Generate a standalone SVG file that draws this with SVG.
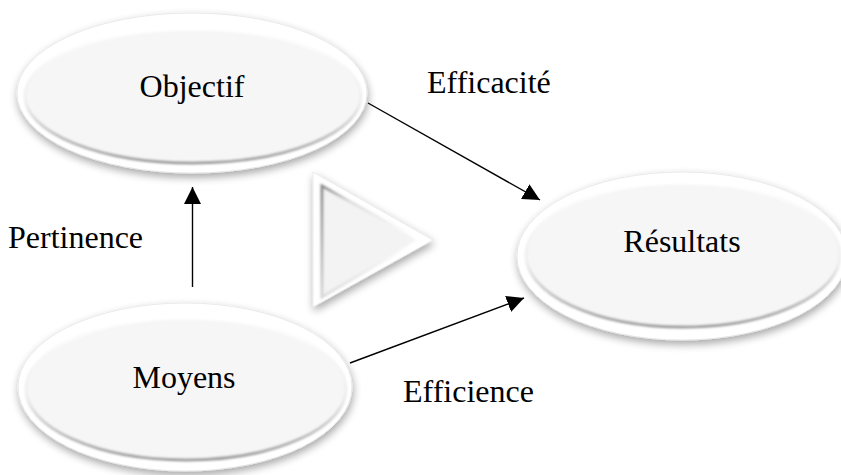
<svg xmlns="http://www.w3.org/2000/svg" width="841" height="475" viewBox="0 0 841 475">
  <style>
    .outer { fill: #ffffff; stroke: #e4e4e4; stroke-width: 0.8; }
    .inner { fill: #f6f6f6; stroke: url(#edge); stroke-width: 3; }
    .lbl { font-family: "Liberation Serif", "Times New Roman", serif; font-size: 32px; fill: #000; }
    .mid { text-anchor: middle; }
    .conn { stroke: #000; stroke-width: 1.4; fill: none; marker-end: url(#arrow); }
  </style>
  <defs>
    <filter id="shadow" x="-20%" y="-20%" width="140%" height="150%">
      <feGaussianBlur in="SourceAlpha" stdDeviation="4"/>
      <feOffset dx="1" dy="4" result="b"/>
      <feComponentTransfer><feFuncA type="linear" slope="0.35"/></feComponentTransfer>
      <feMerge><feMergeNode/><feMergeNode in="SourceGraphic"/></feMerge>
    </filter>
    <filter id="soft" x="-10%" y="-10%" width="120%" height="120%">
      <feGaussianBlur stdDeviation="0.8"/>
    </filter>
    <linearGradient id="edge" x1="0" y1="0" x2="0" y2="1">
      <stop offset="0" stop-color="#ffffff"/>
      <stop offset="0.55" stop-color="#eeeeee"/>
      <stop offset="1" stop-color="#9c9c9c"/>
    </linearGradient>
    <linearGradient id="tedge" x1="0" y1="0" x2="1" y2="0.3">
      <stop offset="0" stop-color="#8e8e8e"/>
      <stop offset="0.3" stop-color="#dddddd"/>
      <stop offset="1" stop-color="#ffffff"/>
    </linearGradient>
    <marker id="arrow" markerUnits="userSpaceOnUse" markerWidth="17" markerHeight="17" viewBox="0 0 16 16" refX="16" refY="8" orient="auto">
      <path d="M0,0 L16,8 L0,16 z" fill="#000"/>
    </marker>
  </defs>

  <g id="objectif">
    <ellipse class="outer" cx="192" cy="93" rx="175" ry="80" filter="url(#shadow)"/>
    <ellipse class="inner" cx="193" cy="96" rx="168" ry="67" filter="url(#soft)"/>
    <text class="lbl mid" x="192" y="97">Objectif</text>
  </g>

  <g id="resultats">
    <ellipse class="outer" cx="682" cy="256" rx="165" ry="84" filter="url(#shadow)"/>
    <ellipse class="inner" cx="683" cy="255" rx="157" ry="72" filter="url(#soft)"/>
    <text class="lbl mid" x="682" y="252">Résultats</text>
  </g>

  <g id="moyens">
    <ellipse class="outer" cx="185" cy="387" rx="167" ry="84" filter="url(#shadow)"/>
    <ellipse class="inner" cx="186" cy="389" rx="160" ry="71" filter="url(#soft)"/>
    <text class="lbl mid" x="184" y="388">Moyens</text>
  </g>

  <g id="triangle">
    <polygon points="313,172 313,307 433,240" fill="#ffffff" stroke="#e4e4e4" stroke-width="0.8" stroke-linejoin="round" filter="url(#shadow)"/>
    <polygon points="322,186 322,297 419,240" fill="#f3f3f3" stroke="url(#tedge)" stroke-width="3" filter="url(#soft)"/>
  </g>

  <g id="connectors">
    <line class="conn" x1="368" y1="103" x2="540" y2="200"/>
    <line class="conn" x1="350" y1="363" x2="524" y2="298"/>
    <line class="conn" x1="192.5" y1="287" x2="192.5" y2="187"/>
  </g>

  <g id="labels">
    <text class="lbl" x="427" y="93">Efficacité</text>
    <text class="lbl" x="8" y="248">Pertinence</text>
    <text class="lbl" x="403" y="402">Efficience</text>
  </g>
</svg>
